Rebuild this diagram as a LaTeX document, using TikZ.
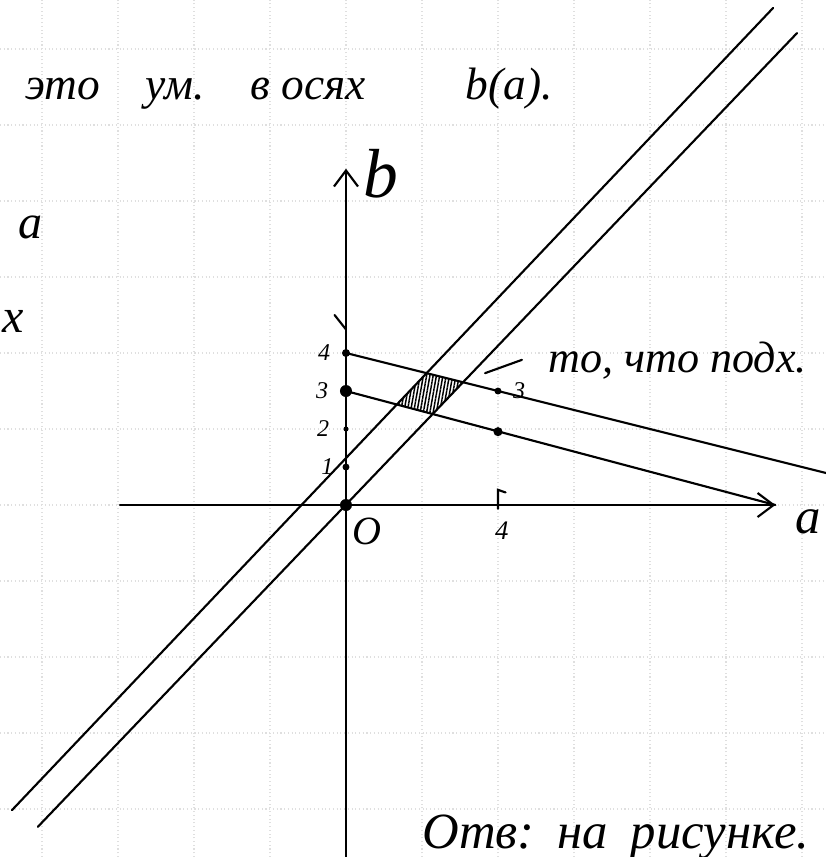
\documentclass[tikz,border=0pt]{standalone}
\usepackage{fontspec}
\setmainfont{Liberation Serif}
\usetikzlibrary{arrows.meta, positioning, calc, patterns.meta}

\begin{document}
\begin{tikzpicture}[
  x=0.5cm, y=0.5cm,
  pen/.style={line width=0.8pt, line cap=round},
  axis/.style={pen, -{Straight Barb[length=6pt,width=9pt]}},
  gridline/.style={gray!25, densely dotted, line width=0.4pt},
  hand/.style={font=\itshape\fontsize{#1}{#1}\selectfont, inner sep=0pt},
  dot/.style={circle, fill, inner sep=0pt, minimum size=#1},
  tick/.style={font=\itshape\fontsize{9}{9}\selectfont, inner sep=0pt},
  hatch/.style={pattern={Lines[angle=80,distance=1.2pt,line width=0.55pt]}},
]
  \useasboundingbox (-9.105,-9.263) rectangle (12.63,13.29);
  \fill[white] (-9.105,-9.263) rectangle (12.63,13.29);
  \draw[gridline] (-9.105,-9.263) grid (12.63,13.29);

  % shaded region
  \fill[hatch] (1.339,2.641) -- (2.124,3.469) -- (3.077,3.231) -- (2.276,2.39) -- cycle;

  % axes
  \coordinate (aleft) at (-5.95,0);
  \coordinate (atip)  at (11.3,0);
  \coordinate (bbot)  at (0,-9.4);
  \coordinate (btip)  at (0,8.85);
  \draw[axis] (aleft) -- (atip);
  \draw[axis] (bbot) -- (btip);
  \draw[pen] (-0.3,5.0) -- (0,4.62);

  % points
  \node[dot=4.5pt] (p0) at (0,0) {};
  \node[dot=2.6pt] (p1) at (0,1) {};
  \node[dot=1.9pt] (p2) at (0,2) {};
  \node[dot=4.5pt] (p3) at (0,3) {};
  \node[dot=3pt]   (p4) at (0,4) {};
  \node[dot=2.6pt] (q3) at (4,3) {};
  \node[dot=3.4pt] (q2) at (4,1.93) {};

  % lines b(a)
  \coordinate (uend) at (13,0.75);
  \draw[pen] (p4.center) -- (uend);
  \draw[pen] (p3.center) -- (atip);
  \coordinate (astart) at (-8.79,-8.03);
  \coordinate (aend)   at (11.24,13.08);
  \coordinate (bstart) at (-8.11,-8.47);
  \coordinate (bend)   at (11.87,12.42);
  \draw[pen] (astart) -- (aend);
  \draw[pen] (bstart) -- (bend);

  % ticks and labels
  \draw[pen] (4,-0.1) -- (4,0.4) -- (4.2,0.33);
  \node[tick, font=\itshape\fontsize{10}{10}\selectfont] (t4) at (4.1,-0.68) {4};
  \node[tick, left=4pt of p4] (l4) {4};
  \node[tick, left=4pt of p3] (l3) {3};
  \node[tick, left=5pt of p2] (l2) {2};
  \node[tick, left=3pt of p1] (l1) {1};
  \node[tick, right=4pt of q3] (r3) {3};
  \node[hand=26] (blab) at (0.92,8.71) {b};
  \node[hand=19] (alab) at (12.16,-0.45) {a};
  \node[hand=15] (olab) at (0.55,-0.69) {O};

  % texts
  \node[hand=17, anchor=base west] (title) at (-8.45,10.66)
    {это\hspace{1em}ум.\hspace{1em}в осях\hspace{2.2em}b(a).};
  \node[hand=18] (fa) at (-8.3,7.3) {a};
  \node[hand=18] (fx) at (-8.75,4.84) {x};
  \node[hand=16.5, anchor=base west] (fits) at (5.32,3.5) {то, что подх.};
  \draw[pen] ($(fits.base west)+(-1.66,-0.03)$) -- ($(fits.base west)+(-0.69,0.32)$);
  \node[hand=19, anchor=base west] (answer) at (2.0,-9.03)
    {Отв:\hspace{0.45em}на\hspace{0.45em}рисунке.};
\end{tikzpicture}
\end{document}
